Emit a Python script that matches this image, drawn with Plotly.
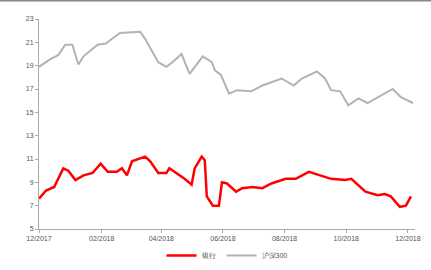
import plotly.graph_objects as go

gray_dates = ["2017-12-01","2017-12-13","2017-12-20","2017-12-27","2018-01-03","2018-01-09","2018-01-14",
              "2018-01-28","2018-02-05","2018-02-19","2018-03-11","2018-03-16","2018-03-29","2018-04-06",
              "2018-04-12","2018-04-21","2018-04-29","2018-05-12","2018-05-21","2018-05-24","2018-05-30",
              "2018-06-07","2018-06-15","2018-06-29","2018-07-10","2018-07-29","2018-08-10","2018-08-18",
              "2018-09-02","2018-09-10","2018-09-16","2018-09-25","2018-10-03","2018-10-13","2018-10-22",
              "2018-11-01","2018-11-16","2018-11-24","2018-12-06"]
gray_vals = [18.9,19.6,19.9,20.8,20.8,19.1,19.8,
             20.8,20.9,21.8,21.9,21.3,19.3,18.9,
             19.3,20.0,18.3,19.8,19.3,18.6,18.2,
             16.6,16.9,16.8,17.3,17.9,17.3,17.9,
             18.5,17.9,16.9,16.8,15.6,16.2,15.8,
             16.3,17.0,16.3,15.8]

red_dates = ["2017-12-01","2017-12-08","2017-12-16","2017-12-25","2017-12-30","2018-01-06","2018-01-14",
             "2018-01-23","2018-01-31","2018-02-07","2018-02-16","2018-02-21","2018-02-26","2018-03-03",
             "2018-03-16","2018-03-21","2018-03-29","2018-04-06","2018-04-09","2018-04-16","2018-04-24",
             "2018-05-01","2018-05-04","2018-05-11","2018-05-14","2018-05-16","2018-05-22","2018-05-28",
             "2018-05-31","2018-06-05","2018-06-14","2018-06-20","2018-06-30","2018-07-10","2018-07-19",
             "2018-08-02","2018-08-12","2018-08-25","2018-09-06","2018-09-16","2018-09-30","2018-10-06",
             "2018-10-20","2018-11-01","2018-11-08","2018-11-14","2018-11-23","2018-11-29","2018-12-04"]
red_vals = [7.6,8.3,8.6,10.2,10.0,9.2,9.6,
            9.8,10.6,9.9,9.9,10.2,9.6,10.8,
            11.2,10.8,9.8,9.8,10.2,9.8,9.3,
            8.8,10.2,11.2,10.9,7.8,7.0,7.0,
            9.0,8.9,8.2,8.5,8.6,8.5,8.9,
            9.3,9.3,9.9,9.6,9.3,9.2,9.3,
            8.2,7.9,8.0,7.8,6.9,7.0,7.8]

series_names = ["银行", "沪深300"]
y_ticks = [5, 7, 9, 11, 13, 15, 17, 19, 21, 23]

fig = go.Figure()
fig.add_trace(go.Scatter(x=red_dates, y=red_vals, mode="lines", name=series_names[0],
                         line=dict(color="#ff0000", width=2.5)))
fig.add_trace(go.Scatter(x=gray_dates, y=gray_vals, mode="lines", name=series_names[1],
                         line=dict(color="#b3b3b3", width=2)))

fig.update_layout(
    width=431, height=270,
    margin=dict(l=39, r=16, t=19, b=41, autoexpand=False),
    paper_bgcolor="white", plot_bgcolor="white",
    font=dict(family="Liberation Sans, Arial, sans-serif", size=7, color="#555555"),
    showlegend=True,
    legend=dict(orientation="h", x=0.5, xanchor="center", yref="container", y=-0.02, yanchor="bottom",
                font=dict(size=7), itemwidth=30),
    xaxis=dict(type="date", range=["2017-12-01", "2018-12-08"], tick0="2017-12-01", dtick="M2",
               tickformat="%m/%Y", showgrid=False, showline=True, linecolor="#aaaaaa", linewidth=1,
               ticks="outside", ticklen=3, tickcolor="#aaaaaa", zeroline=False),
    yaxis=dict(range=[5, 23], tickvals=y_ticks, showgrid=False, showline=True,
               linecolor="#aaaaaa", linewidth=1, ticks="outside", ticklen=3, tickcolor="#aaaaaa",
               zeroline=False),
    shapes=[dict(type="line", xref="paper", yref="paper", x0=-0.11, x1=1.05, y0=1.088, y1=1.088,
                 line=dict(color="#888888", width=2))],
)

fig.write_html("out.html", config={"displayModeBar": False},
               post_script="document.body.style.margin='0';document.body.style.overflow='hidden';")
